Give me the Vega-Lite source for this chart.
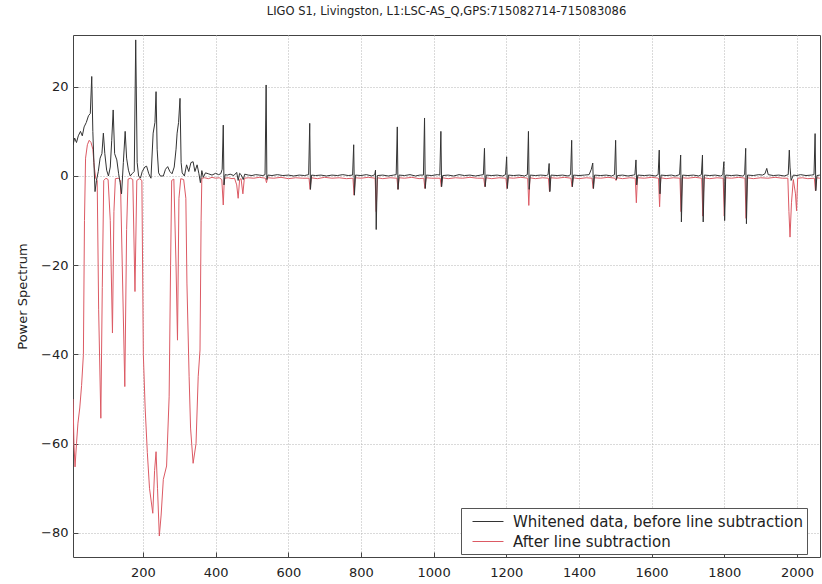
{
  "$schema": "https://vega.github.io/schema/vega-lite/v6.json",
  "width": 747,
  "height": 522,
  "autosize": {"type": "none"},
  "padding": {"left": 73, "top": 35, "right": 2, "bottom": 27},
  "background": "white",
  "title": {
    "text": "LIGO S1, Livingston, L1:LSC-AS_Q,GPS:715082714-715083086",
    "font": "DejaVu Sans",
    "fontSize": 11.5,
    "fontWeight": "normal",
    "color": "#222222",
    "anchor": "middle",
    "offset": 18
  },
  "datasets": {
    "whitened": [
      {"f": 7.5, "v": 7}, {"f": 12, "v": 8.5}, {"f": 17, "v": 7.5}, {"f": 22, "v": 9}, {"f": 28, "v": 10},
      {"f": 33, "v": 9}, {"f": 38, "v": 11}, {"f": 44, "v": 12}, {"f": 50, "v": 13.5}, {"f": 55, "v": 14},
      {"f": 59, "v": 22.3}, {"f": 62, "v": 10}, {"f": 65, "v": 3}, {"f": 68, "v": -3.5}, {"f": 72, "v": -1},
      {"f": 77, "v": 1}, {"f": 82, "v": 4}, {"f": 87, "v": 5}, {"f": 91, "v": 9.6}, {"f": 95, "v": 5},
      {"f": 100, "v": 1.3}, {"f": 105, "v": 0}, {"f": 110, "v": 2}, {"f": 114, "v": 8}, {"f": 118, "v": 14.8},
      {"f": 122, "v": 5}, {"f": 128, "v": 3.6}, {"f": 133, "v": 0.5}, {"f": 137, "v": -1.5}, {"f": 141, "v": -4},
      {"f": 146, "v": 3}, {"f": 151, "v": 10}, {"f": 155, "v": 4}, {"f": 160, "v": 1.3}, {"f": 165, "v": 0},
      {"f": 170, "v": 0.5}, {"f": 176, "v": 1}, {"f": 180, "v": 30.5}, {"f": 184, "v": 3}, {"f": 188, "v": 0},
      {"f": 193, "v": -0.5}, {"f": 198, "v": 1}, {"f": 205, "v": 2}, {"f": 210, "v": 2.2}, {"f": 216, "v": 0.5},
      {"f": 222, "v": -0.5}, {"f": 228, "v": 9.6}, {"f": 233, "v": 12}, {"f": 236, "v": 18.9}, {"f": 239, "v": 6},
      {"f": 243, "v": 0.7}, {"f": 248, "v": 0}, {"f": 256, "v": 0}, {"f": 262, "v": 1.5}, {"f": 268, "v": 2.1},
      {"f": 274, "v": 1}, {"f": 280, "v": 0.5}, {"f": 286, "v": 2}, {"f": 291, "v": 6}, {"f": 294, "v": 9.6},
      {"f": 298, "v": 12}, {"f": 302, "v": 17.4}, {"f": 305, "v": 3}, {"f": 308, "v": 0.7}, {"f": 314, "v": 0},
      {"f": 320, "v": 2.5}, {"f": 326, "v": 1}, {"f": 332, "v": 3}, {"f": 338, "v": 3.2}, {"f": 343, "v": 1},
      {"f": 349, "v": 2.5}, {"f": 354, "v": 0.5}, {"f": 358, "v": -1.5}, {"f": 362, "v": 1.2}, {"f": 366, "v": -0.3},
      {"f": 372, "v": 0.7}, {"f": 380, "v": 0.5}, {"f": 390, "v": 0.2}, {"f": 400, "v": 0.6}, {"f": 408, "v": 0.3},
      {"f": 414, "v": 0.5}, {"f": 418, "v": 1.5}, {"f": 421, "v": 11.4}, {"f": 423, "v": -2}, {"f": 426, "v": 0.3},
      {"f": 432, "v": 0.2}, {"f": 440, "v": 0.4}, {"f": 450, "v": 0.1}, {"f": 458, "v": 0.8}, {"f": 462, "v": -1},
      {"f": 466, "v": 0.6}, {"f": 470, "v": 0.3}, {"f": 476, "v": -0.8}, {"f": 480, "v": 0.4}, {"f": 490, "v": 0.2},
      {"f": 500, "v": 0.1}, {"f": 510, "v": 0.3}, {"f": 520, "v": 0.2}, {"f": 530, "v": 0.1}, {"f": 536, "v": 0.3},
      {"f": 539, "v": 20.4}, {"f": 541, "v": -0.8}, {"f": 544, "v": 0.2}, {"f": 555, "v": 0.1}, {"f": 570, "v": 0.3},
      {"f": 585, "v": 0.1}, {"f": 600, "v": 0.2}, {"f": 615, "v": 0}, {"f": 630, "v": 0.2}, {"f": 645, "v": 0.1},
      {"f": 656, "v": 0.3}, {"f": 659, "v": 11.8}, {"f": 661, "v": -3}, {"f": 664, "v": 0.2}, {"f": 675, "v": 0.1},
      {"f": 690, "v": 0.2}, {"f": 705, "v": 0}, {"f": 720, "v": 0.2}, {"f": 735, "v": 0.1}, {"f": 750, "v": 0.3},
      {"f": 765, "v": 0.1}, {"f": 777, "v": 0.2}, {"f": 780, "v": 7}, {"f": 782, "v": -4.3}, {"f": 785, "v": 0.2},
      {"f": 800, "v": 0.1}, {"f": 815, "v": 0.3}, {"f": 830, "v": 0}, {"f": 838, "v": 0.3}, {"f": 840, "v": 1.3},
      {"f": 842, "v": -12}, {"f": 845, "v": 0.1}, {"f": 860, "v": 0.2}, {"f": 875, "v": 0}, {"f": 890, "v": 0.2},
      {"f": 897, "v": 0.3}, {"f": 900, "v": 11}, {"f": 902, "v": -3}, {"f": 905, "v": 0.2}, {"f": 920, "v": 0.1},
      {"f": 935, "v": 0.3}, {"f": 950, "v": 0}, {"f": 962, "v": 0.2}, {"f": 972, "v": 0.2}, {"f": 975, "v": 13},
      {"f": 977, "v": -2.8}, {"f": 980, "v": 0.2}, {"f": 995, "v": 0.1}, {"f": 1010, "v": 0.3}, {"f": 1017, "v": 0.2},
      {"f": 1020, "v": 10}, {"f": 1022, "v": -2.4}, {"f": 1025, "v": 0.1}, {"f": 1040, "v": 0.2}, {"f": 1055, "v": 0},
      {"f": 1070, "v": 0.3}, {"f": 1085, "v": 0.1}, {"f": 1100, "v": 0.2}, {"f": 1115, "v": 0}, {"f": 1130, "v": 0.2},
      {"f": 1137, "v": 0.3}, {"f": 1140, "v": 6.2}, {"f": 1142, "v": -2.4}, {"f": 1145, "v": 0.2}, {"f": 1160, "v": 0.1},
      {"f": 1175, "v": 0.2}, {"f": 1190, "v": 0}, {"f": 1198, "v": 0.3}, {"f": 1201, "v": 4.3}, {"f": 1203, "v": -2.8},
      {"f": 1206, "v": 0.2}, {"f": 1220, "v": 0.1}, {"f": 1235, "v": 0.2}, {"f": 1250, "v": 0}, {"f": 1258, "v": 0.3},
      {"f": 1261, "v": 10}, {"f": 1263, "v": -3}, {"f": 1266, "v": 0.2}, {"f": 1280, "v": 0.1}, {"f": 1295, "v": 0.2},
      {"f": 1310, "v": 0.1}, {"f": 1315, "v": 0.3}, {"f": 1318, "v": 2.8}, {"f": 1320, "v": -3.5}, {"f": 1323, "v": 0.2},
      {"f": 1340, "v": 0.1}, {"f": 1355, "v": 0.2}, {"f": 1370, "v": 0}, {"f": 1377, "v": 0.3}, {"f": 1380, "v": 8},
      {"f": 1382, "v": -2.4}, {"f": 1385, "v": 0.2}, {"f": 1400, "v": 0.1}, {"f": 1415, "v": 0.2}, {"f": 1428, "v": 0.3},
      {"f": 1434, "v": 1.5}, {"f": 1438, "v": 2.9}, {"f": 1440, "v": -2.8}, {"f": 1443, "v": 0.2}, {"f": 1460, "v": 0.1},
      {"f": 1475, "v": 0.2}, {"f": 1490, "v": 0}, {"f": 1498, "v": 0.3}, {"f": 1501, "v": 8}, {"f": 1503, "v": -0.8},
      {"f": 1506, "v": 0.1}, {"f": 1520, "v": 0.2}, {"f": 1535, "v": 0}, {"f": 1550, "v": 0.2}, {"f": 1554, "v": 0.3},
      {"f": 1557, "v": 3.6}, {"f": 1559, "v": -2}, {"f": 1562, "v": 0.2}, {"f": 1580, "v": 0.1}, {"f": 1595, "v": 0.2},
      {"f": 1610, "v": 0}, {"f": 1618, "v": 0.3}, {"f": 1621, "v": 5.8}, {"f": 1623, "v": -4}, {"f": 1626, "v": 0.2},
      {"f": 1640, "v": 0.1}, {"f": 1655, "v": 0.2}, {"f": 1665, "v": 0}, {"f": 1677, "v": 0.3}, {"f": 1680, "v": 4.7},
      {"f": 1682, "v": -10.3}, {"f": 1685, "v": 0.2}, {"f": 1700, "v": 0.1}, {"f": 1715, "v": 0.2}, {"f": 1730, "v": 0},
      {"f": 1737, "v": 0.3}, {"f": 1740, "v": 4.7}, {"f": 1742, "v": -10.3}, {"f": 1745, "v": 0.2}, {"f": 1760, "v": 0.1},
      {"f": 1775, "v": 0.2}, {"f": 1790, "v": 0}, {"f": 1796, "v": 0.3}, {"f": 1799, "v": 3.2}, {"f": 1801, "v": -10},
      {"f": 1804, "v": 0.2}, {"f": 1820, "v": 0.1}, {"f": 1835, "v": 0.2}, {"f": 1850, "v": 0}, {"f": 1856, "v": 0.3},
      {"f": 1859, "v": 6.2}, {"f": 1861, "v": -10.7}, {"f": 1864, "v": 0.2}, {"f": 1880, "v": 0.1}, {"f": 1895, "v": 0.3},
      {"f": 1905, "v": 0.2}, {"f": 1912, "v": 0.5}, {"f": 1917, "v": 1.7}, {"f": 1921, "v": 0.3}, {"f": 1935, "v": 0.1},
      {"f": 1950, "v": 0.2}, {"f": 1965, "v": 0}, {"f": 1976, "v": 0.3}, {"f": 1979, "v": 5.8}, {"f": 1981, "v": 2},
      {"f": 1984, "v": -1}, {"f": 1990, "v": 0.2}, {"f": 2000, "v": 0.1}, {"f": 2010, "v": 0.3}, {"f": 2025, "v": 0.1},
      {"f": 2040, "v": 0.2}, {"f": 2047, "v": 0.3}, {"f": 2050, "v": 9.5}, {"f": 2052, "v": -3.3}, {"f": 2055, "v": 0.1},
      {"f": 2063, "v": 0.2}
    ],
    "after": [
      {"f": 7.5, "v": -50}, {"f": 10, "v": -60}, {"f": 13, "v": -65.2}, {"f": 17, "v": -60}, {"f": 21, "v": -55.4},
      {"f": 26, "v": -52}, {"f": 31, "v": -47}, {"f": 36, "v": -40}, {"f": 39, "v": -10}, {"f": 42, "v": 4},
      {"f": 47, "v": 7}, {"f": 52, "v": 8}, {"f": 57, "v": 7.5}, {"f": 62, "v": 6}, {"f": 66, "v": 2},
      {"f": 70, "v": -0.5}, {"f": 74, "v": -1}, {"f": 78, "v": -30}, {"f": 84, "v": -54.3}, {"f": 88, "v": -25},
      {"f": 92, "v": -1}, {"f": 98, "v": -0.5}, {"f": 104, "v": -0.8}, {"f": 110, "v": -10}, {"f": 116, "v": -35.2},
      {"f": 120, "v": -8}, {"f": 124, "v": -0.6}, {"f": 132, "v": -0.5}, {"f": 138, "v": -1}, {"f": 143, "v": -20},
      {"f": 150, "v": -47.2}, {"f": 155, "v": -12}, {"f": 159, "v": -0.7}, {"f": 166, "v": -0.5}, {"f": 172, "v": -0.8},
      {"f": 178, "v": -25.9}, {"f": 183, "v": -1}, {"f": 190, "v": -0.6}, {"f": 197, "v": -1}, {"f": 201, "v": -40},
      {"f": 206, "v": -52}, {"f": 212, "v": -62}, {"f": 218, "v": -70}, {"f": 227, "v": -75.6}, {"f": 232, "v": -66},
      {"f": 236, "v": -61.8}, {"f": 240, "v": -70}, {"f": 245, "v": -80.7}, {"f": 250, "v": -76}, {"f": 256, "v": -68},
      {"f": 265, "v": -65}, {"f": 272, "v": -49.5}, {"f": 276, "v": -20}, {"f": 279, "v": -1}, {"f": 285, "v": -0.7},
      {"f": 291, "v": -20}, {"f": 295, "v": -36.8}, {"f": 299, "v": -5}, {"f": 304, "v": -0.6}, {"f": 312, "v": -0.8},
      {"f": 318, "v": -5}, {"f": 321, "v": -24}, {"f": 327, "v": -45}, {"f": 331, "v": -56.5}, {"f": 338, "v": -64.4},
      {"f": 346, "v": -60}, {"f": 352, "v": -45}, {"f": 357, "v": -39}, {"f": 360, "v": -10}, {"f": 362, "v": -0.5},
      {"f": 370, "v": -0.4}, {"f": 380, "v": -0.6}, {"f": 390, "v": -0.3}, {"f": 400, "v": -0.5}, {"f": 410, "v": -0.4},
      {"f": 417, "v": -0.8}, {"f": 421, "v": -6.5}, {"f": 424, "v": -0.5}, {"f": 435, "v": -0.4}, {"f": 445, "v": -0.6},
      {"f": 452, "v": -0.5}, {"f": 458, "v": -2}, {"f": 462, "v": -5}, {"f": 466, "v": -0.8}, {"f": 470, "v": -0.6},
      {"f": 475, "v": -4}, {"f": 479, "v": -0.5}, {"f": 490, "v": -0.4}, {"f": 505, "v": -0.5}, {"f": 520, "v": -0.3},
      {"f": 537, "v": -0.5}, {"f": 540, "v": -1.5}, {"f": 543, "v": -0.4}, {"f": 560, "v": -0.5}, {"f": 580, "v": -0.3},
      {"f": 600, "v": -0.6}, {"f": 620, "v": -0.4}, {"f": 640, "v": -0.5}, {"f": 657, "v": -0.5}, {"f": 660, "v": -3},
      {"f": 663, "v": -0.4}, {"f": 680, "v": -0.6}, {"f": 700, "v": -0.3}, {"f": 720, "v": -0.5}, {"f": 740, "v": -0.4},
      {"f": 760, "v": -0.6}, {"f": 778, "v": -0.5}, {"f": 781, "v": -4.3}, {"f": 784, "v": -0.4}, {"f": 800, "v": -0.5},
      {"f": 820, "v": -0.3}, {"f": 839, "v": -0.5}, {"f": 842, "v": -8}, {"f": 845, "v": -0.4}, {"f": 860, "v": -0.6},
      {"f": 880, "v": -0.4}, {"f": 899, "v": -0.5}, {"f": 902, "v": -3}, {"f": 905, "v": -0.4}, {"f": 920, "v": -0.5},
      {"f": 940, "v": -0.3}, {"f": 960, "v": -0.6}, {"f": 973, "v": -0.5}, {"f": 976, "v": -2.8}, {"f": 979, "v": -0.4},
      {"f": 995, "v": -0.5}, {"f": 1018, "v": -0.5}, {"f": 1021, "v": -2.4}, {"f": 1024, "v": -0.4}, {"f": 1040, "v": -0.6},
      {"f": 1060, "v": -0.4}, {"f": 1080, "v": -0.5}, {"f": 1100, "v": -0.3}, {"f": 1120, "v": -0.5}, {"f": 1138, "v": -0.5},
      {"f": 1141, "v": -2.4}, {"f": 1144, "v": -0.4}, {"f": 1160, "v": -0.6}, {"f": 1180, "v": -0.4}, {"f": 1199, "v": -0.5},
      {"f": 1202, "v": -2.8}, {"f": 1205, "v": -0.4}, {"f": 1220, "v": -0.5}, {"f": 1240, "v": -0.3}, {"f": 1259, "v": -0.5},
      {"f": 1262, "v": -6.6}, {"f": 1265, "v": -0.4}, {"f": 1280, "v": -0.6}, {"f": 1300, "v": -0.4}, {"f": 1316, "v": -0.5},
      {"f": 1319, "v": -3.5}, {"f": 1322, "v": -0.4}, {"f": 1340, "v": -0.5}, {"f": 1360, "v": -0.3}, {"f": 1378, "v": -0.5},
      {"f": 1381, "v": -2.4}, {"f": 1384, "v": -0.4}, {"f": 1400, "v": -0.6}, {"f": 1420, "v": -0.4}, {"f": 1436, "v": -0.5},
      {"f": 1439, "v": -2.8}, {"f": 1442, "v": -0.4}, {"f": 1460, "v": -0.5}, {"f": 1480, "v": -0.3}, {"f": 1499, "v": -0.5},
      {"f": 1502, "v": -1}, {"f": 1505, "v": -0.4}, {"f": 1520, "v": -0.6}, {"f": 1540, "v": -0.4}, {"f": 1555, "v": -0.5},
      {"f": 1558, "v": -6}, {"f": 1561, "v": -0.4}, {"f": 1580, "v": -0.5}, {"f": 1600, "v": -0.3}, {"f": 1619, "v": -0.5},
      {"f": 1622, "v": -6.9}, {"f": 1625, "v": -0.4}, {"f": 1640, "v": -0.6}, {"f": 1660, "v": -0.4}, {"f": 1678, "v": -0.5},
      {"f": 1681, "v": -8}, {"f": 1684, "v": -0.4}, {"f": 1700, "v": -0.5}, {"f": 1720, "v": -0.3}, {"f": 1738, "v": -0.5},
      {"f": 1741, "v": -9}, {"f": 1744, "v": -0.4}, {"f": 1760, "v": -0.6}, {"f": 1780, "v": -0.4}, {"f": 1797, "v": -0.5},
      {"f": 1800, "v": -9}, {"f": 1803, "v": -0.4}, {"f": 1820, "v": -0.5}, {"f": 1840, "v": -0.3}, {"f": 1857, "v": -0.5},
      {"f": 1860, "v": -9.5}, {"f": 1863, "v": -0.4}, {"f": 1880, "v": -0.6}, {"f": 1900, "v": -0.4}, {"f": 1920, "v": -0.5},
      {"f": 1940, "v": -0.3}, {"f": 1960, "v": -0.5}, {"f": 1975, "v": -0.5}, {"f": 1978, "v": -8}, {"f": 1981, "v": -13.7},
      {"f": 1985, "v": -6}, {"f": 1990, "v": -0.8}, {"f": 1996, "v": -4}, {"f": 1999, "v": -7.8}, {"f": 2002, "v": -0.5},
      {"f": 2015, "v": -0.4}, {"f": 2030, "v": -0.6}, {"f": 2048, "v": -0.5}, {"f": 2051, "v": -3.3}, {"f": 2054, "v": -0.4},
      {"f": 2063, "v": -0.5}
    ]
  },
  "encoding": {
    "x": {
      "field": "f",
      "type": "quantitative",
      "scale": {"domain": [7.4, 2063.5], "nice": false, "zero": false},
      "axis": {
        "title": null,
        "format": "d",
        "values": [200, 400, 600, 800, 1000, 1200, 1400, 1600, 1800, 2000],
        "labelPadding": 14
      }
    },
    "y": {
      "field": "v",
      "type": "quantitative",
      "scale": {"domain": [-85.4, 31.6], "nice": false, "zero": false},
      "axis": {
        "title": "Power Spectrum",
        "format": "d",
        "values": [-80, -60, -40, -20, 0, 20],
        "labelPadding": 10,
        "titleX": -51,
        "titleY": 261,
        "titleAngle": 270,
        "titleAlign": "center",
        "titleBaseline": "middle"
      }
    }
  },
  "layer": [
    {
      "data": {"name": "after"},
      "mark": {"type": "line", "strokeWidth": 1, "clip": true, "interpolate": "linear"},
      "encoding": {
        "color": {
          "datum": "After line subtraction",
          "type": "nominal",
          "scale": {
            "domain": ["Whitened data, before line subtraction", "After line subtraction"],
            "range": ["#333333", "#dc5a64"]
          },
          "legend": {
            "title": null,
            "orient": "none",
            "legendX": 388,
            "legendY": 473,
            "direction": "vertical",
            "fillColor": "white",
            "strokeColor": "#555555",
            "padding": 4,
            "symbolType": "M-1.72,0H1.72",
            "symbolSize": 324,
            "symbolStrokeWidth": 1,
            "symbolOffset": 13.5,
            "labelFont": "DejaVu Sans",
            "labelFontSize": 15,
            "labelColor": "#222222",
            "labelLimit": 400,
            "labelOffset": 15.5,
            "rowPadding": 2
          }
        }
      }
    },
    {
      "data": {"name": "whitened"},
      "mark": {"type": "line", "strokeWidth": 1, "clip": true, "interpolate": "linear"},
      "encoding": {
        "color": {
          "datum": "Whitened data, before line subtraction",
          "type": "nominal"
        }
      }
    }
  ],
  "config": {
    "view": {"stroke": "#444444", "strokeWidth": 1},
    "axis": {
      "labelFont": "DejaVu Sans",
      "labelFontSize": 13,
      "labelColor": "#222222",
      "titleFont": "DejaVu Sans",
      "titleFontSize": 13,
      "titleFontWeight": "normal",
      "titleColor": "#222222",
      "domain": false,
      "ticks": true,
      "tickSize": -5,
      "tickColor": "#444444",
      "grid": true,
      "gridColor": "#b5b5b5",
      "gridDash": [1, 2],
      "gridWidth": 1
    }
  }
}
